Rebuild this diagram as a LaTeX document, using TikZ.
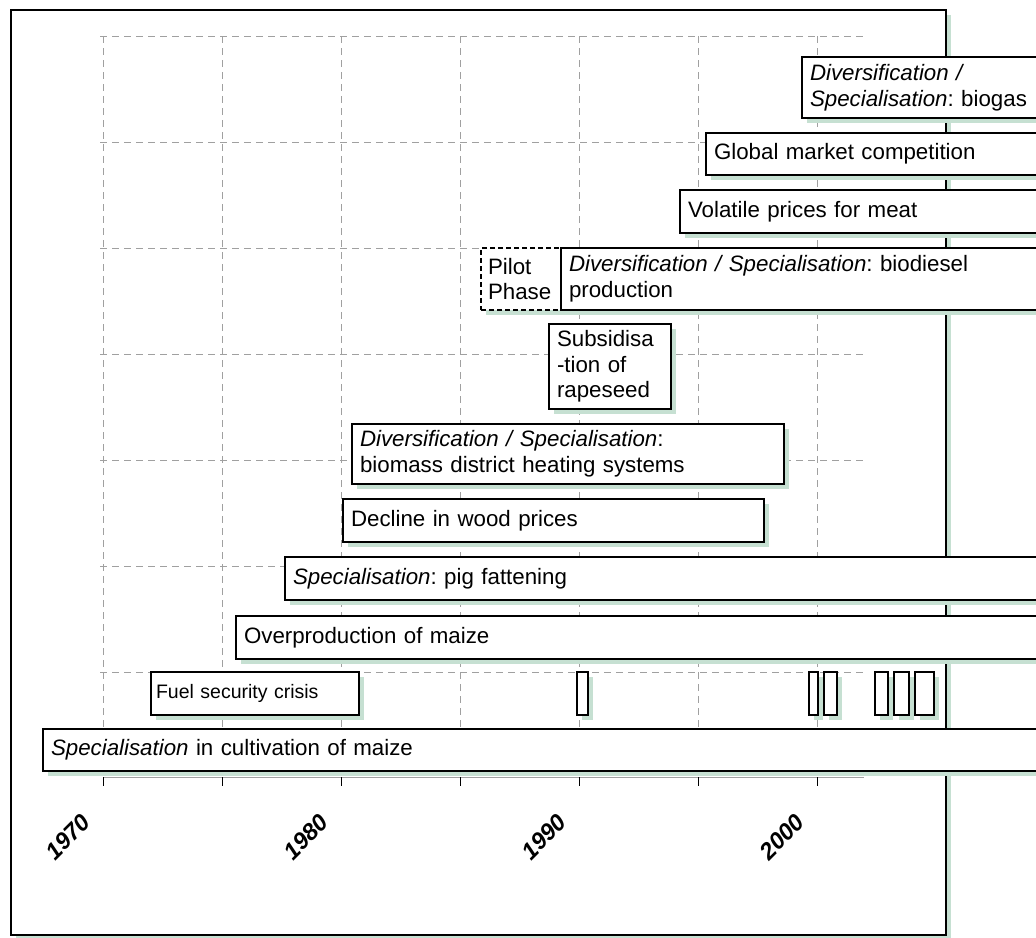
\documentclass[tikz,border=0pt]{standalone}
\usepackage{fontspec}
\setmainfont{Liberation Sans}
\usetikzlibrary{shadows}
\frenchspacing
\definecolor{shd}{RGB}{198,224,210}
\definecolor{gridgray}{RGB}{160,160,160}
\newcommand\evfont{\fontsize{22.3}{25.6}\selectfont}
\newcommand\smallevfont{\fontsize{19.5}{22}\selectfont}
\tikzset{
  bar/.style={draw=black, line width=1.8pt, fill=white, anchor=north west,
    inner xsep=8pt, inner ysep=0pt, outer sep=0pt, align=left, font=\evfont,
    drop shadow={shadow xshift=5pt, shadow yshift=-5pt, fill=shd, draw=none, opacity=1}},
  pulse/.style={bar, inner xsep=0pt, minimum height=43pt},
  gridline/.style={draw=gridgray, line width=0.9pt, dash pattern=on 7pt off 5pt},
  year/.style={rotate=45, inner sep=0pt, font=\bfseries\itshape\fontsize{23.5}{26}\selectfont}
}
\begin{document}
\begin{tikzpicture}[x=1pt,y=-1pt]
\useasboundingbox (0,0) rectangle (1036,937);
\clip (0,0) rectangle (1036,937);

% outer frame with its shadow
\fill[shd] (16,15) rectangle (951,940);
\draw[line width=2.5pt, fill=white] (11,10) rectangle (946,935);

% dashed grid
\foreach \k in {0,...,6}
  \draw[gridline] (100,36+106*\k) -- (864,36+106*\k);
\foreach \k in {0,...,6}
  \draw[gridline] (103.5+119*\k,36) -- (103.5+119*\k,777);

% time axis with ticks
\draw[gridgray, line width=1pt] (103.5,777) -- (864,777);
\foreach \k in {0,...,6}
  \draw[black, line width=1pt] (103.5+119*\k,777) -- (103.5+119*\k,786);

% events and phases
\node[bar, minimum width=1002pt, minimum height=42pt, text width=986pt] (maize) at (43,729)
  {\textit{Specialisation} in cultivation of maize};
\node[bar, inner xsep=5pt, font=\smallevfont, minimum width=208pt, minimum height=43pt, text width=198pt] (fuel) at (151,672)
  {Fuel security crisis};
\node[bar, minimum width=809pt, minimum height=43pt, text width=793pt] (overprod) at (236,616)
  {Overproduction of maize};
\node[bar, minimum width=760pt, minimum height=43pt, text width=744pt] (pig) at (285,557)
  {\textit{Specialisation}: pig fattening};
\node[bar, minimum width=421pt, minimum height=43pt, text width=405pt] (wood) at (343,499)
  {Decline in wood prices};
\node[bar, minimum width=432pt, minimum height=60pt, text width=416pt] (biomass) at (352,424)
  {\textit{Diversification / Specialisation}:\\biomass district heating systems};
\node[bar, minimum width=122pt, minimum height=85pt, text width=106pt] (subsid) at (549,324)
  {Subsidisa\\-tion of\\rapeseed};
\node[bar, dash pattern=on 5pt off 3pt, inner xsep=7pt, minimum width=80pt, minimum height=62pt, text width=66pt] (pilot) at (481,248)
  {Pilot\\Phase};
\node[bar, minimum width=484pt, minimum height=62pt, text width=468pt] (biodiesel) at (561,248)
  {\textit{Diversification / Specialisation}: biodiesel\\production};
\node[bar, minimum width=365pt, minimum height=43pt, text width=349pt] (meat) at (680,190)
  {Volatile prices for meat};
\node[bar, minimum width=339pt, minimum height=42pt, text width=323pt] (global) at (706,133)
  {Global market competition};
\node[bar, minimum width=243pt, minimum height=61pt, text width=227pt] (biogas) at (802,57)
  {\textit{Diversification /}\\\textit{Specialisation}: biogas};

% short crisis pulses
\node[pulse, minimum width=11pt] (p1) at (577,672) {};
\node[pulse, minimum width=9pt]  (p2) at (809,672) {};
\node[pulse, minimum width=13pt] (p3) at (824,672) {};
\node[pulse, minimum width=13pt] (p4) at (875,672) {};
\node[pulse, minimum width=15pt] (p5) at (894,672) {};
\node[pulse, minimum width=19pt] (p6) at (915,672) {};

% year labels
\node[year] (y1970) at (68,837) {1970};
\node[year] (y1980) at (306,837) {1980};
\node[year] (y1990) at (544,837) {1990};
\node[year] (y2000) at (782,837) {2000};
\end{tikzpicture}
\end{document}
